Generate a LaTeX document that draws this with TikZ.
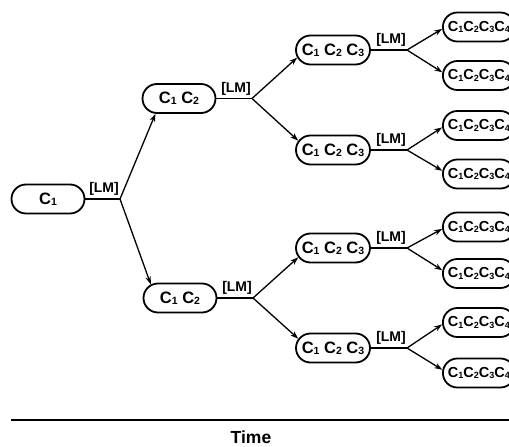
\documentclass[tikz,border=0pt]{standalone}
\usepackage{fontspec}
\setmainfont{Liberation Sans}
\usetikzlibrary{shapes.misc,arrows.meta}
\newcommand{\lo}[1]{\raisebox{-1.2pt}{\fontsize{10.5}{10.5}\selectfont #1}}
\newcommand{\los}[1]{\raisebox{-1.2pt}{\fontsize{9}{9}\selectfont #1}}
\tikzset{
  cbox/.style={draw, rounded rectangle, line width=1.8pt, minimum height=29pt,
    inner sep=0pt, font=\fontsize{16.5}{16.5}\selectfont\bfseries},
  cboxs/.style={cbox, minimum width=72pt, anchor=west, font=\fontsize{14.5}{14.5}\selectfont\bfseries},
  lm/.style={anchor=south east, inner sep=1pt, yshift=2pt, font=\fontsize{14}{14}\selectfont\bfseries},
  conn/.style={line width=1.3pt},
  arr/.style={line width=1.3pt, -{Stealth[length=8pt,width=5.5pt]}},
}
\begin{document}
\begin{tikzpicture}[x=1pt,y=-1pt]
\useasboundingbox (0,0) rectangle (509,447);
\clip (0,0) rectangle (509,447);
% level 1
\node[cbox, minimum width=73pt] (n1) at (48,199) {C\lo{1}};
\coordinate (j1) at (120,199);
% level 2
\node[cbox, minimum width=73pt] (n2a) at (179,98.5) {C\lo{1} C\lo{2}};
\node[cbox, minimum width=73pt] (n2b) at (180,298) {C\lo{1} C\lo{2}};
\coordinate (j2a) at (252,98.5);
\coordinate (j2b) at (253,298);
% level 3
\node[cbox, minimum width=74pt] (n3a) at (333,50) {C\lo{1} C\lo{2} C\lo{3}};
\node[cbox, minimum width=74pt] (n3b) at (333,150) {C\lo{1} C\lo{2} C\lo{3}};
\node[cbox, minimum width=74pt] (n3c) at (333,248) {C\lo{1} C\lo{2} C\lo{3}};
\node[cbox, minimum width=74pt] (n3d) at (333,348) {C\lo{1} C\lo{2} C\lo{3}};
\coordinate (j3a) at (407,50);
\coordinate (j3b) at (407,150);
\coordinate (j3c) at (407,248);
\coordinate (j3d) at (407,348);
% level 4
\node[cboxs] (n4a) at (442,27) {C\los{1}C\los{2}C\los{3}C\los{4}};
\node[cboxs] (n4b) at (442,75.5) {C\los{1}C\los{2}C\los{3}C\los{4}};
\node[cboxs] (n4c) at (442,125.5) {C\los{1}C\los{2}C\los{3}C\los{4}};
\node[cboxs] (n4d) at (442,174) {C\los{1}C\los{2}C\los{3}C\los{4}};
\node[cboxs] (n4e) at (442,227) {C\los{1}C\los{2}C\los{3}C\los{4}};
\node[cboxs] (n4f) at (442,273.5) {C\los{1}C\los{2}C\los{3}C\los{4}};
\node[cboxs] (n4g) at (442,322.5) {C\los{1}C\los{2}C\los{3}C\los{4}};
\node[cboxs] (n4h) at (442,373) {C\los{1}C\los{2}C\los{3}C\los{4}};
% connectors
\draw[conn] (n1.east) -- (j1);
\draw[arr] (j1) -- (n2a.213);
\draw[arr] (j1) -- (n2b.155);
\draw[conn] (n2a.east) -- (j2a);
\draw[conn] (n2b.east) -- (j2b);
\draw[arr] (j2a) -- (n3a.192);
\draw[arr] (j2a) -- (n3b.165);
\draw[arr] (j2b) -- (n3c.195);
\draw[arr] (j2b) -- (n3d.165);
\foreach \a/\u/\v in {a/a/b, b/c/d, c/e/f, d/g/h}{
  \draw[conn] (n3\a.east) -- (j3\a);
  \draw[arr] (j3\a) -- (n4\u.183);
  \draw[arr] (j3\a) -- (n4\v.175);
  \node[lm] (lm3\a) at (j3\a) {[LM]};
}
\node[lm] (lm1) at (j1) {[LM]};
\node[lm] (lm2a) at (j2a) {[LM]};
\node[lm] (lm2b) at (j2b) {[LM]};
% time axis
\coordinate (t0) at (11,420);
\coordinate (t1) at (509,420);
\draw[line width=2pt] (t0) -- (t1);
\node[inner sep=0pt, font=\fontsize{17.5}{17.5}\selectfont\bfseries] (time) at (251,437) {Time};
\end{tikzpicture}
\end{document}
